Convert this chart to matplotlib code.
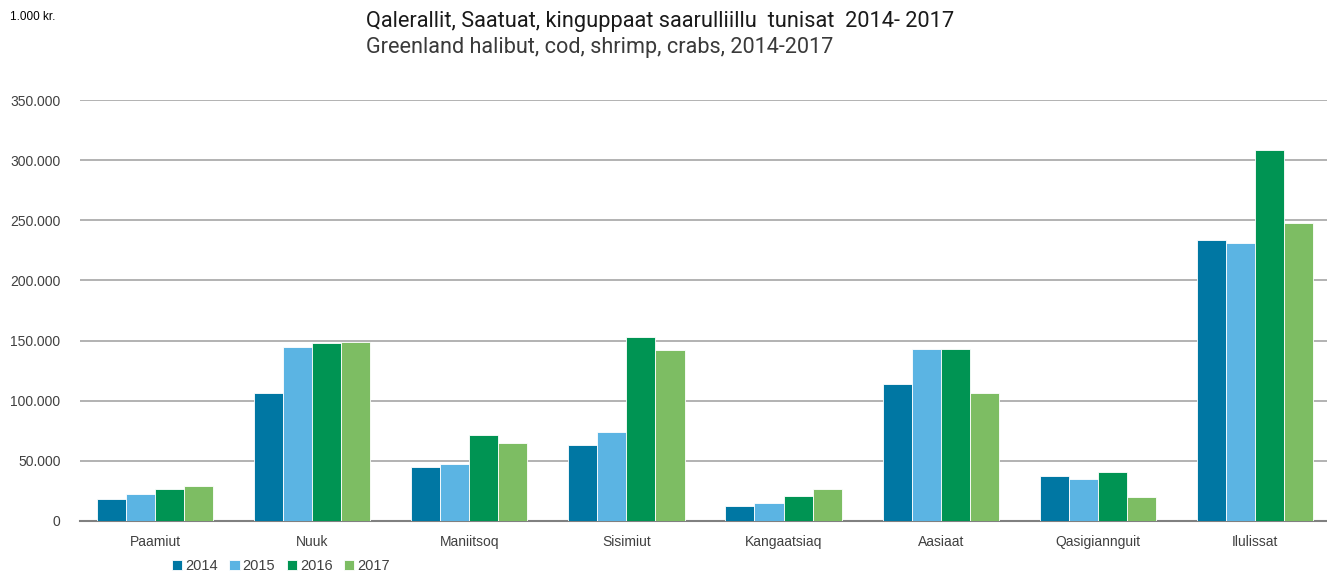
import numpy as np
import matplotlib
matplotlib.use('Agg')
import matplotlib.pyplot as plt
from matplotlib.ticker import FuncFormatter

# data (1.000 kr.)
towns = ['Paamiut', 'Nuuk', 'Maniitsoq', 'Sisimiut', 'Kangaatsiaq',
         'Aasiaat', 'Qasigiannguit', 'Ilulissat']
years = ['2014', '2015', '2016', '2017']
v2014 = [18300, 106400, 44900, 63200, 12500, 113900, 37400, 233600]
v2015 = [22400, 144700, 47400, 74000, 15000, 143000, 34900, 231100]
v2016 = [26600, 148000, 71500, 153000, 20800, 143000, 40700, 308400]
v2017 = [29100, 148800, 64800, 142200, 26600, 106400, 20000, 247700]
colors = ['#0077A3', '#5BB4E3', '#009453', '#7DBD63']

plt.rcParams['font.family'] = ['Liberation Sans', 'DejaVu Sans']
fig = plt.figure(figsize=(13.27, 5.73), dpi=100)
ax = fig.add_axes([80/1327, 52/573, 1247/1327, 421/573])

x = np.arange(len(towns))
w = 0.185
for i, vals in enumerate([v2014, v2015, v2016, v2017]):
    ax.bar(x + (i - 1.5)*w, vals, w, color=colors[i], label=years[i],
           edgecolor='white', linewidth=0.6, zorder=3)

ax.set_xlim(-0.477, 7.458)
ax.set_ylim(0, 350000)
ax.set_yticks(np.arange(0, 350001, 50000))
ax.yaxis.set_major_formatter(FuncFormatter(lambda v, p: f'{int(v):,}'.replace(',', '.')))
ax.set_xticks(x)
ax.set_xticklabels(towns)
ax.grid(axis='y', color='#A6A6A6', linewidth=1.2, zorder=0)
for s in ['top', 'right', 'left']:
    ax.spines[s].set_visible(False)
ax.spines['bottom'].set_color('#808080')
ax.spines['bottom'].set_linewidth(1.5)
ax.tick_params(axis='both', length=0, labelsize=10, colors='#404040')
ax.tick_params(axis='x', pad=10)
ax.tick_params(axis='y', pad=14)

fig.text(10/1327, 1 - 17/573, '1.000 kr.', fontsize=8.5, va='center', ha='left')
fig.text(366/1327, 1 - 21/573, 'Qalerallit, Saatuat, kinguppaat saarulliillu  tunisat  2014- 2017',
         fontsize=15.7, va='center', ha='left', family='Roboto', color='#1a1a1a')
fig.text(366/1327, 1 - 48/573, 'Greenland halibut, cod, shrimp, crabs, 2014-2017',
         fontsize=15.6, va='center', ha='left', family='Roboto', color='#3a3a3a')

leg = fig.legend(loc='center', bbox_to_anchor=(281/1327, 1 - 566/573), ncol=4,
                 frameon=False, fontsize=10.5, handlelength=0.7, handleheight=0.7,
                 handletextpad=0.2, columnspacing=0.8)
for t in leg.get_texts():
    t.set_color('#404040')

fig.savefig('out.png', dpi=100)
